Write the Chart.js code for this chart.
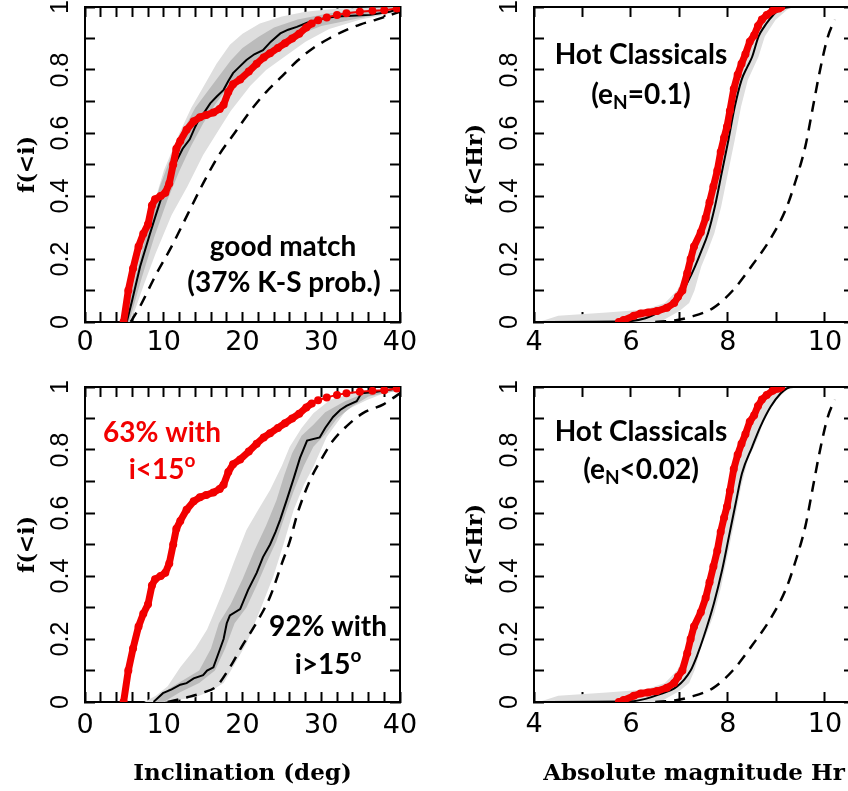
<!DOCTYPE html>
<html>
<head>
<meta charset="utf-8">
<script src="https://cdn.jsdelivr.net/npm/chart.js@4.4.1/dist/chart.umd.min.js"></script>
<style>
  html, body { margin: 0; padding: 0; background: #fff; }
  body { width: 848px; height: 791px; overflow: hidden; position: relative; }
  .panel { position: absolute; }
</style>
</head>
<body>
<div class="panel" style="left:0;top:0"><canvas id="inclTop" width="424" height="360"></canvas></div>
<div class="panel" style="left:424px;top:0"><canvas id="magTop" width="440" height="360"></canvas></div>
<div class="panel" style="left:0;top:360px"><canvas id="inclBottom" width="424" height="431"></canvas></div>
<div class="panel" style="left:424px;top:360px"><canvas id="magBottom" width="440" height="431"></canvas></div>
<script>
// ---- tick labels ----
const fracLabels = [0, 0.2, 0.4, 0.6, 0.8, 1];
const inclLabels = [0, 10, 20, 30, 40];
const magLabels = [4, 6, 8, 10];

// ---- observed hot classicals (red), cumulative fraction ----
const inclObs = [[4.9,0],[5.5,0.1],[6.1,0.17],[6.8,0.24],[7.4,0.28],[8.0,0.31],[8.5,0.37],[8.9,0.39],[9.6,0.40],[10.2,0.41],[10.7,0.44],[11.2,0.5],[11.6,0.55],[12.1,0.575],[12.9,0.61],[13.8,0.637],[14.6,0.65],[15.4,0.657],[16.3,0.665],[17.1,0.676],[17.6,0.69],[18.2,0.73],[18.8,0.755],[19.7,0.77],[20.8,0.795],[21.8,0.82],[22.7,0.84],[23.5,0.853],[24.5,0.87],[25.4,0.885],[26.3,0.9],[27.2,0.915],[28.1,0.935],[28.8,0.948],[29.6,0.958],[30.7,0.967],[32,0.975],[33.2,0.98],[34.9,0.985],[36.5,0.988],[38,0.99],[39.6,0.995],[40,1]];
const magObs = [[5.75,0],[5.85,0.006],[6.06,0.02],[6.2,0.027],[6.35,0.03],[6.54,0.035],[6.74,0.045],[6.89,0.06],[6.97,0.08],[7.06,0.1],[7.16,0.155],[7.23,0.2],[7.3,0.24],[7.44,0.285],[7.54,0.33],[7.62,0.38],[7.7,0.43],[7.78,0.48],[7.85,0.54],[7.92,0.585],[7.98,0.62],[8.04,0.67],[8.12,0.74],[8.2,0.785],[8.28,0.82],[8.36,0.85],[8.45,0.89],[8.54,0.91],[8.62,0.94],[8.7,0.96],[8.8,0.975],[8.92,0.988],[9.05,0.995],[9.1,1]];

// ---- model: e_N = 0.1 (top row) ----
const inclModelTop = [[5.3,0],[6,0.07],[7,0.176],[8.25,0.28],[9,0.34],[9.9,0.41],[10.8,0.46],[11.6,0.51],[12.4,0.55],[13.3,0.58],[14.0,0.62],[14.6,0.65],[15.0,0.66],[15.9,0.694],[16.7,0.715],[17.6,0.737],[18.2,0.765],[18.8,0.79],[19.6,0.81],[20.5,0.832],[21.5,0.85],[22.6,0.863],[23.6,0.89],[24.8,0.916],[25.8,0.928],[26.9,0.937],[28.2,0.95],[29.4,0.959],[30.7,0.966],[32,0.97],[34.5,0.973],[36.2,0.975],[37.5,0.98],[38.7,0.985],[40,0.995]];
const inclDashTop = [[5.8,0],[7,0.05],[9,0.15],[11,0.24],[13,0.34],[15,0.44],[17,0.53],[19,0.6],[21,0.67],[23,0.73],[25,0.78],[27,0.83],[29,0.87],[31,0.9],[33,0.925],[35,0.945],[37,0.96],[40,0.985]];
const inclLightHiTop = [[4.9,0],[6.5,0.17],[8,0.31],[10,0.48],[12,0.6],[13.5,0.68],[15,0.745],[16.7,0.82],[18.4,0.88],[20,0.915],[22.2,0.948],[25,0.97],[28,0.985],[32,0.995],[40,1]];
const inclLightLoTop = [[4.9,0],[5.8,0],[7.5,0.12],[9,0.22],[11,0.34],[13,0.43],[15,0.53],[17,0.61],[18.5,0.67],[21,0.75],[23,0.8],[25.2,0.84],[28,0.89],[31,0.93],[35,0.96],[40,0.985]];
const inclDarkHiTop = [[5,0],[6.5,0.15],[8,0.3],[9.5,0.43],[11,0.53],[12.5,0.61],[14,0.68],[15.5,0.73],[17,0.78],[18.5,0.83],[20,0.87],[22,0.905],[24,0.935],[27,0.96],[31,0.98],[40,0.998]];
const inclDarkLoTop = [[5,0],[5.6,0],[7.2,0.14],[8.8,0.27],[10.5,0.39],[12,0.48],[13.5,0.56],[15,0.63],[16.5,0.69],[18,0.74],[20,0.79],[22,0.84],[24.5,0.88],[27,0.91],[30,0.94],[34,0.96],[40,0.99]];

// ---- model: e_N < 0.02 (bottom row) ----
const inclModelBottom = [[8.7,0],[9.9,0.028],[11,0.04],[12.1,0.055],[12.9,0.06],[13.8,0.075],[15,0.085],[15.5,0.1],[16.3,0.11],[17.1,0.165],[17.6,0.2],[18,0.25],[18.4,0.275],[19.7,0.295],[20.7,0.355],[21.8,0.41],[22.6,0.46],[23.5,0.5],[24.2,0.54],[24.8,0.58],[25.6,0.64],[26.5,0.71],[27.3,0.775],[28.2,0.83],[29.8,0.84],[30.5,0.87],[31.5,0.905],[32.4,0.927],[33.2,0.94],[34.5,0.955],[35.1,0.98],[37,0.985],[39.6,0.995],[40,1]];
const inclDashBottom = [[10.5,0],[13,0.015],[15,0.03],[16.7,0.05],[18.4,0.11],[20,0.18],[21.5,0.24],[23.5,0.334],[25,0.44],[26,0.51],[27,0.6],[28.6,0.705],[30,0.77],[31.5,0.83],[33.2,0.875],[35.3,0.917],[37.9,0.945],[40,0.98]];
const inclLightHiBottom = [[7.5,0],[9,0.02],[10.5,0.05],[12.1,0.11],[14,0.17],[15.5,0.23],[16.5,0.29],[17.6,0.356],[19,0.45],[20.5,0.546],[22,0.61],[23.5,0.673],[25,0.75],[26,0.81],[27.5,0.87],[29,0.917],[31.1,0.959],[34,0.98],[40,1]];
const inclLightLoBottom = [[7.5,0],[10,0],[14,0.015],[16,0.035],[17.6,0.06],[19,0.12],[20.5,0.186],[22.2,0.29],[23.9,0.398],[25.2,0.5],[26.5,0.61],[27.8,0.69],[29,0.747],[30.7,0.842],[33.2,0.927],[35.8,0.959],[38,0.98],[40,0.99]];
const inclDarkHiBottom = [[9,0],[10.5,0.04],[12.5,0.07],[14.5,0.1],[16,0.17],[17,0.25],[18.5,0.31],[20,0.39],[21.5,0.48],[23,0.56],[24.3,0.64],[25.3,0.72],[26.3,0.79],[27.5,0.845],[29,0.88],[30.5,0.92],[33,0.955],[36,0.985],[40,1]];
const inclDarkLoBottom = [[9,0],[10,0],[12,0.03],[14.5,0.06],[16.5,0.1],[17.8,0.17],[19,0.25],[20.5,0.3],[21.8,0.37],[23,0.44],[24.3,0.51],[25.5,0.6],[26.5,0.67],[27.8,0.75],[29,0.81],[30.5,0.85],[32,0.9],[34,0.94],[36,0.97],[40,0.99]];

// ---- absolute magnitude panels ----
const magModelTop = [[4.1,0],[5.9,0.002],[6.3,0.012],[6.52,0.027],[6.85,0.059],[7.04,0.091],[7.18,0.13],[7.32,0.176],[7.45,0.225],[7.59,0.282],[7.73,0.366],[7.87,0.472],[8.01,0.578],[8.14,0.683],[8.28,0.768],[8.4,0.81],[8.5,0.842],[8.63,0.906],[8.76,0.94],[8.85,0.959],[8.97,0.98],[9.12,0.995],[9.3,1],[10.6,1]];
const magModelBottom = [[4.1,0],[6.0,0.002],[6.3,0.01],[6.54,0.022],[6.95,0.049],[7.23,0.1],[7.37,0.15],[7.5,0.207],[7.71,0.313],[7.88,0.419],[8.02,0.525],[8.16,0.631],[8.29,0.726],[8.5,0.81],[8.67,0.874],[8.88,0.937],[9.09,0.98],[9.22,0.996],[9.35,1],[10.6,1]];
const magDash = [[6.5,0],[6.9,0.005],[7.2,0.015],[7.7,0.045],[8.1,0.1],[8.5,0.18],[8.9,0.27],[9.2,0.36],[9.4,0.45],[9.6,0.56],[9.75,0.68],[9.9,0.8],[10.05,0.9],[10.2,0.96]];
const magLightHi = [[4.1,0],[4.5,0.02],[5.5,0.03],[6.3,0.04],[6.7,0.06],[6.95,0.1],[7.19,0.176],[7.32,0.225],[7.46,0.282],[7.6,0.366],[7.74,0.472],[7.88,0.578],[8.01,0.683],[8.15,0.768],[8.37,0.842],[8.5,0.906],[8.72,0.959],[9.0,0.995],[9.15,1],[10.6,1]];
const magLightLo = [[4.1,0],[6.6,0],[7.0,0.035],[7.2,0.06],[7.31,0.1],[7.45,0.176],[7.58,0.225],[7.72,0.282],[7.86,0.366],[8.0,0.472],[8.14,0.578],[8.27,0.683],[8.41,0.768],[8.63,0.842],[8.76,0.906],[8.98,0.959],[9.25,0.995],[9.4,1],[10.6,1]];

const RED = "#f20000";
const LIGHT = "#dedede";
const DARK = "#bbbbbb";
const NONE = "rgba(0,0,0,0)";

const pts = a => a.map(([x, y]) => ({ x, y }));

// text inside the panels, page coordinates
const annotate = {
  id: "annotate",
  afterDatasetsDraw(chart, args, opts) {
    const ctx = chart.ctx;
    ctx.save();
    ctx.textBaseline = "middle";
    ctx.textAlign = "left";
    (opts.notes || []).forEach(n => {
      const runs = n.runs.map(r => (typeof r === "string" ? { t: r } : r));
      let w = 0;
      runs.forEach(r => {
        ctx.font = "bold " + (r.sub || r.sup ? 19 : 28) + "px Lato";
        r.w = ctx.measureText(r.t).width;
        w += r.w;
      });
      let x = n.x - opts.dx - w / 2;
      const y = n.y - opts.dy;
      ctx.fillStyle = n.color || "#000";
      runs.forEach(r => {
        ctx.font = "bold " + (r.sub || r.sup ? 19 : 28) + "px Lato";
        ctx.fillText(r.t, x, y + (r.sub ? 8 : r.sup ? -9 : 0));
        x += r.w;
      });
    });
    ctx.restore();
  },
};

function makeScales(o) {
  const frame = { display: true, color: "#000", width: 2 };
  const grid = { drawOnChartArea: false, tickLength: -10, tickColor: "#000", tickWidth: 2 };
  const fixW = w => s => { s.width = w; s.paddingTop = 0; s.paddingBottom = 0; s.paddingLeft = 0; s.paddingRight = 0; };
  const fixH = h => s => { s.height = h; s.paddingTop = 0; s.paddingBottom = 0; s.paddingLeft = 0; s.paddingRight = 0; };
  const xBase = { type: "linear", min: o.xMin, max: o.xMax, border: frame, grid };
  const yBase = { type: "linear", min: 0, max: 1, border: frame, grid };
  return {
    x: {
      ...xBase, position: "bottom",
      ticks: {
        stepSize: o.xStep, includeBounds: false, autoSkip: false, maxRotation: 0, color: "#000",
        padding: o.xPad, font: { family: "DejaVu Sans", size: 27 },
        callback: v => (o.xLabels.includes(v) ? String(v) : ""),
      },
      title: o.xTitle
        ? { display: true, text: o.xTitle, color: "#000", padding: { top: 0, bottom: 3 },
            font: { family: "DejaVu Serif", size: 23, weight: "bold" } }
        : { display: false },
      afterFit: fixH(o.bottom),
    },
    x2: {
      ...xBase, position: "top",
      ticks: { stepSize: o.xStep, includeBounds: false, autoSkip: false, display: false },
      afterFit: fixH(o.top),
    },
    y: {
      ...yBase, position: "left",
      ticks: {
        stepSize: 0.1, autoSkip: false, minRotation: 90, maxRotation: 90, crossAlign: "center",
        color: "#000", padding: 17, font: { family: "Liberation Sans", size: 25 },
        callback: v => {
          const r = Math.round(v * 10) / 10;
          return fracLabels.includes(r) ? String(r) : "";
        },
      },
      title: { display: true, text: o.yTitle, color: "#000", padding: { top: o.yTitlePad, bottom: 0 },
               font: { family: "DejaVu Serif", size: 22, weight: "bold" } },
      afterFit: fixW(o.left),
    },
    y2: {
      ...yBase, position: "right",
      ticks: { stepSize: 0.1, autoSkip: false, display: false },
      afterFit: fixW(o.right),
    },
  };
}

function drawPanel(o) {
  const band = (hi, lo, color) => [
    { data: pts(hi), fill: "+1", backgroundColor: color, borderColor: NONE, borderWidth: 0, pointRadius: 0, order: 10 },
    { data: pts(lo), fill: false, borderColor: NONE, borderWidth: 0, pointRadius: 0, order: 10 },
  ];
  let datasets = band(o.lightHi, o.lightLo, LIGHT);
  if (o.darkHi) datasets = datasets.concat(band(o.darkHi, o.darkLo, DARK).map(d => ({ ...d, order: 9 })));
  const smooth = o.smooth ? "monotone" : "default";
  datasets.push(
    { data: pts(o.dash), borderColor: "#000", borderWidth: 2.5, borderDash: [11, 8], pointRadius: 0,
      fill: false, cubicInterpolationMode: "monotone", order: 3 },
    { data: pts(o.model), borderColor: "#000", borderWidth: 2, pointRadius: 0, fill: false,
      cubicInterpolationMode: smooth, order: 2 },
    { data: pts(o.obs), borderColor: RED, backgroundColor: RED, pointRadius: 4, pointBorderWidth: 0,
      borderWidth: 7, fill: false, order: 1,
      segment: { borderWidth: c => (o.obs[c.p0DataIndex][1] > o.thinAbove ? 2 : 7) } },
  );
  new Chart(document.getElementById(o.id), {
    type: "line",
    data: { datasets },
    options: {
      responsive: false,
      animation: false,
      events: [],
      layout: { padding: 0 },
      scales: makeScales(o),
      plugins: {
        legend: { display: false },
        tooltip: { enabled: false },
        annotate: { notes: o.notes, dx: o.dx, dy: o.dy },
      },
    },
    plugins: [annotate],
  });
}

drawPanel({
  id: "inclTop", dx: 0, dy: 0,
  xMin: 0, xMax: 40, xStep: 2, xLabels: inclLabels, xPad: 15, yTitle: "f(<i)", yTitlePad: 15,
  left: 85, right: 24, top: 7, bottom: 38,
  lightHi: inclLightHiTop, lightLo: inclLightLoTop, darkHi: inclDarkHiTop, darkLo: inclDarkLoTop,
  dash: inclDashTop, model: inclModelTop, obs: inclObs, thinAbove: 0.945,
  notes: [
    { x: 283, y: 247, runs: ["good match"] },
    { x: 284, y: 283, runs: ["(37% K-S prob.)"] },
  ],
});

drawPanel({
  id: "magTop", dx: 424, dy: 0, smooth: true,
  xMin: 4, xMax: 10.6, xStep: 1, xLabels: magLabels, xPad: 15, yTitle: "f(<Hr)", yTitlePad: 39,
  left: 110, right: 10, top: 7, bottom: 38,
  lightHi: magLightHi, lightLo: magLightLo,
  dash: magDash, model: magModelTop, obs: magObs, thinAbove: 2,
  notes: [
    { x: 641, y: 55, runs: ["Hot Classicals"] },
    { x: 641, y: 95, runs: ["(e", { t: "N", sub: true }, "=0.1)"] },
  ],
});

drawPanel({
  id: "inclBottom", dx: 0, dy: 360,
  xMin: 0, xMax: 40, xStep: 2, xLabels: inclLabels, xPad: 18, yTitle: "f(<i)", yTitlePad: 15,
  xTitle: "Inclination (deg)",
  left: 85, right: 24, top: 27, bottom: 89,
  lightHi: inclLightHiBottom, lightLo: inclLightLoBottom, darkHi: inclDarkHiBottom, darkLo: inclDarkLoBottom,
  dash: inclDashBottom, model: inclModelBottom, obs: inclObs, thinAbove: 0.945,
  notes: [
    { x: 162, y: 433, color: RED, runs: ["63% with"] },
    { x: 162, y: 470, color: RED, runs: ["i<15", { t: "o", sup: true }] },
    { x: 328, y: 627, runs: ["92% with"] },
    { x: 328, y: 665, runs: ["i>15", { t: "o", sup: true }] },
  ],
});

drawPanel({
  id: "magBottom", dx: 424, dy: 360, smooth: true,
  xMin: 4, xMax: 10.6, xStep: 1, xLabels: magLabels, xPad: 17, yTitle: "f(<Hr)", yTitlePad: 39,
  xTitle: "Absolute magnitude Hr",
  left: 110, right: 10, top: 27, bottom: 89,
  lightHi: magLightHi, lightLo: magLightLo,
  dash: magDash, model: magModelBottom, obs: magObs, thinAbove: 2,
  notes: [
    { x: 641, y: 432, runs: ["Hot Classicals"] },
    { x: 641, y: 470, runs: ["(e", { t: "N", sub: true }, "<0.02)"] },
  ],
});
</script>
</body>
</html>
